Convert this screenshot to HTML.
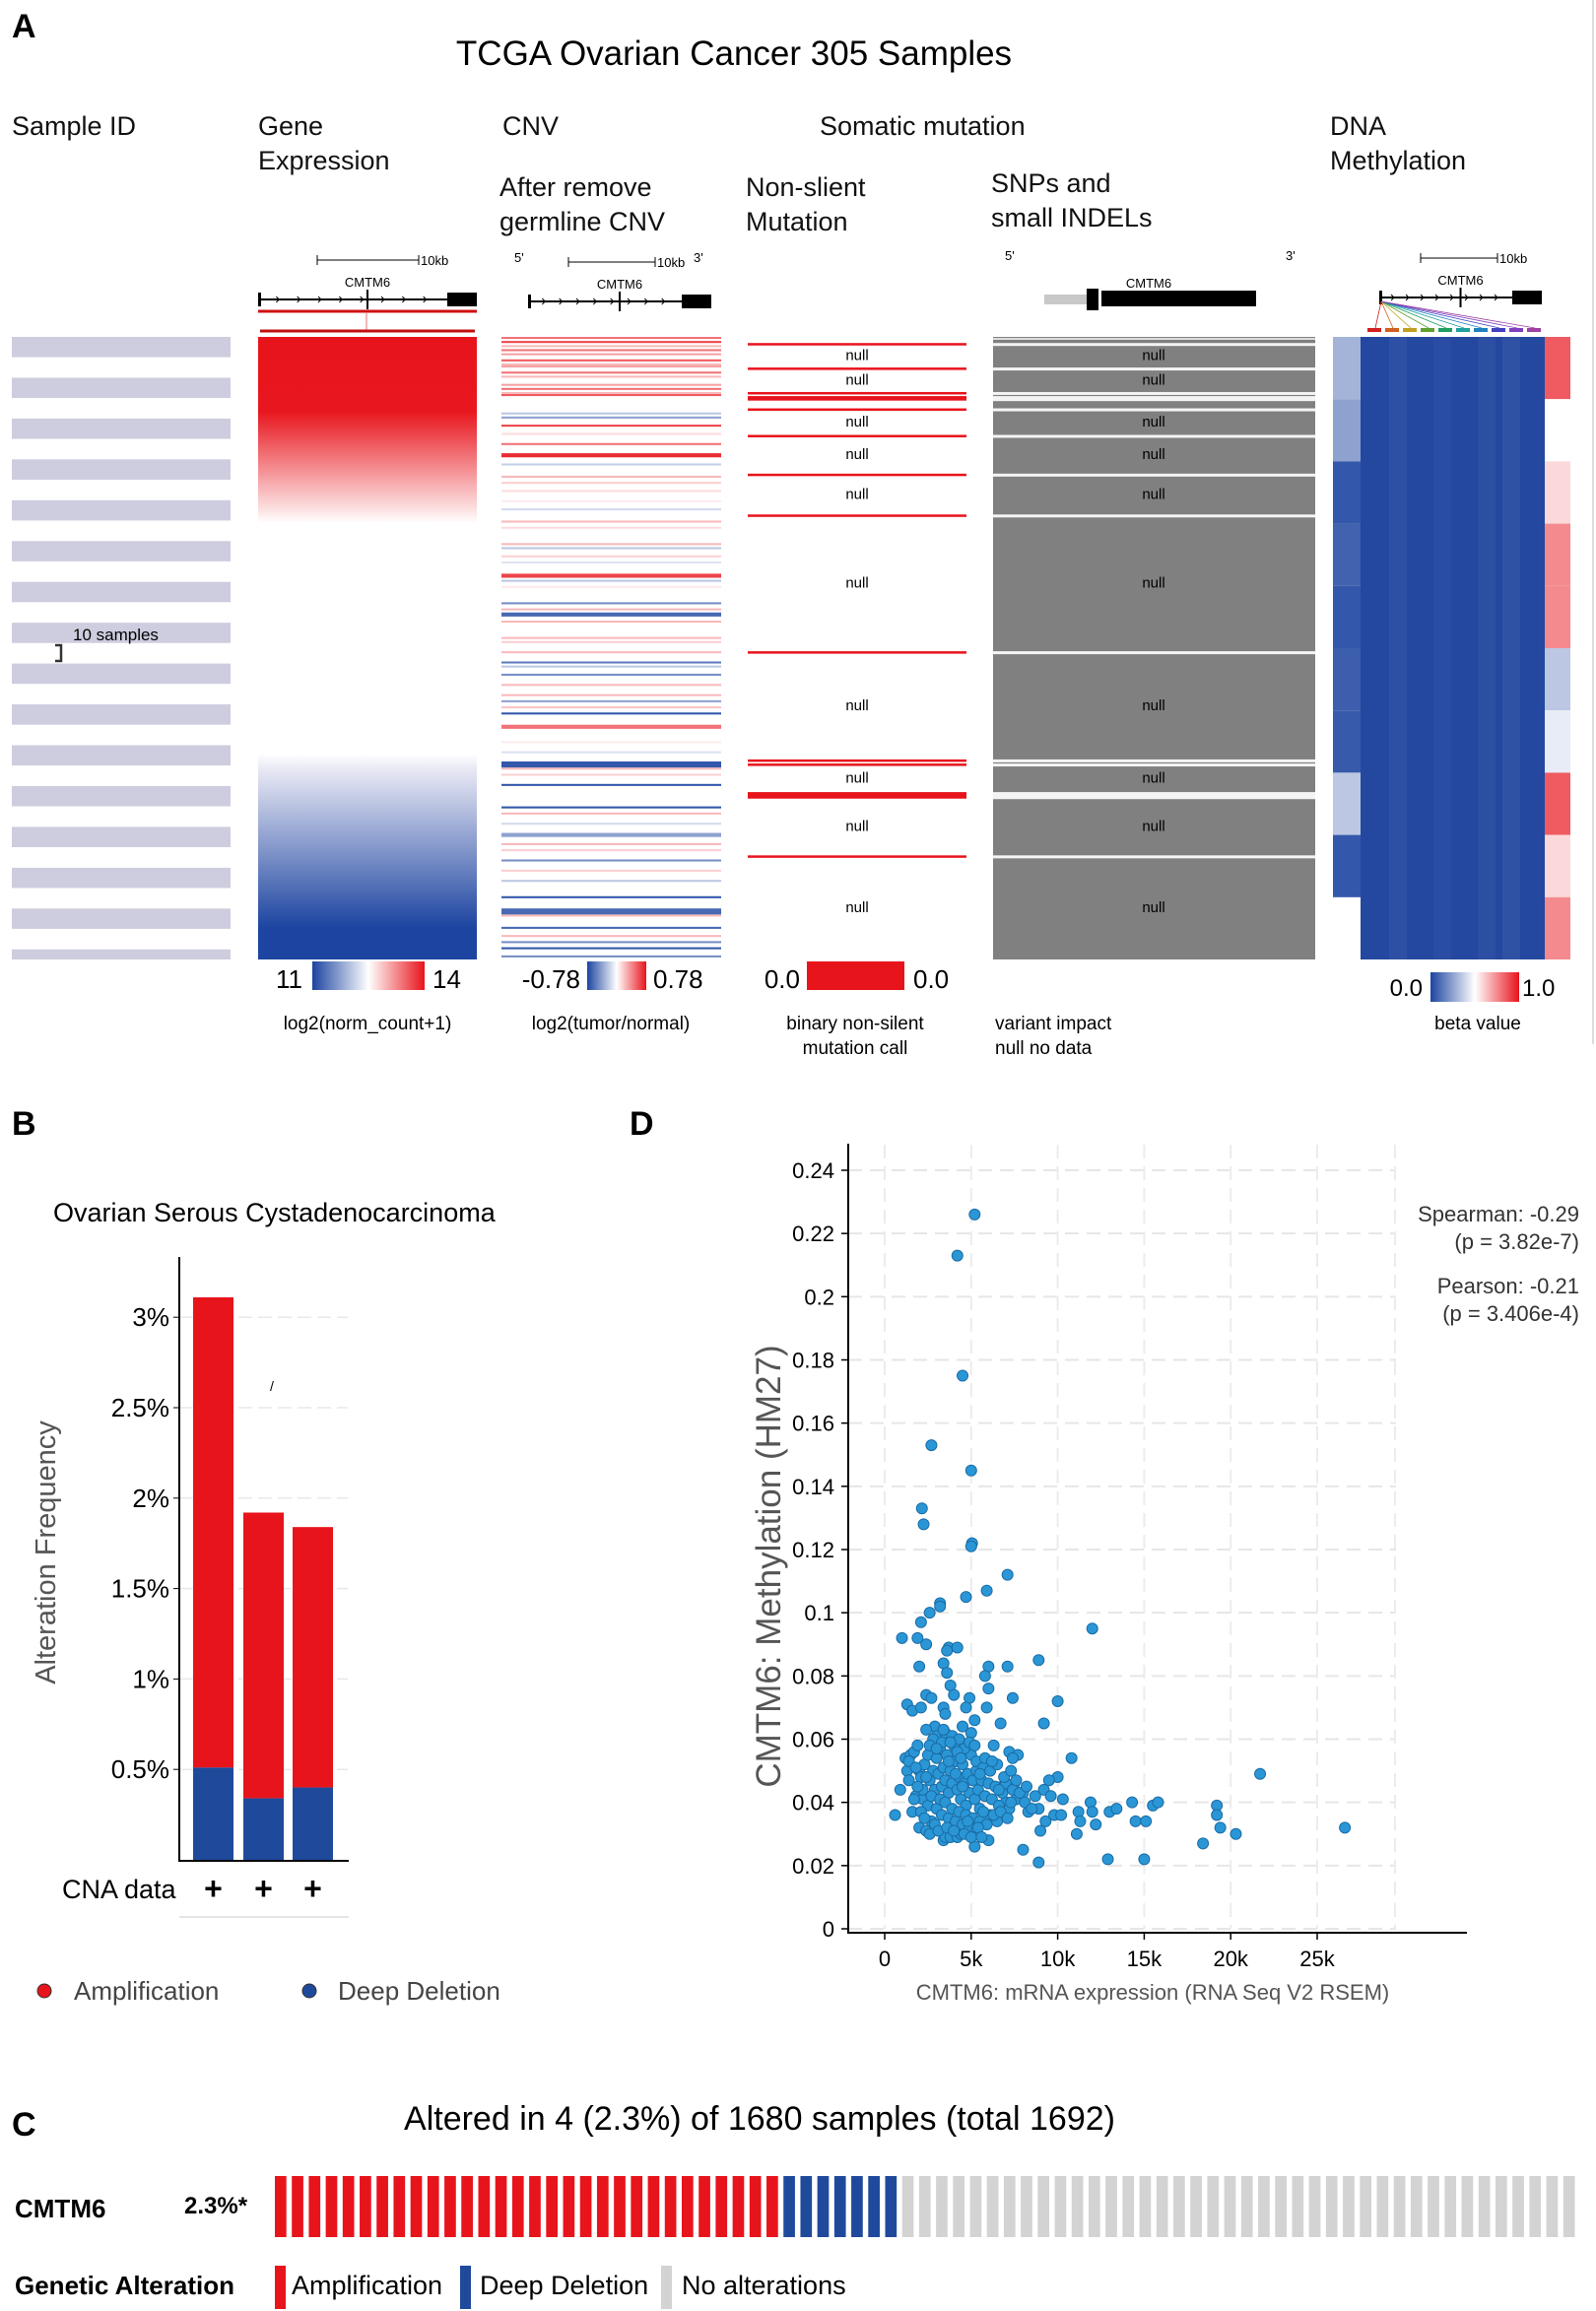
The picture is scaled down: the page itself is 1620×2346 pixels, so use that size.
<!DOCTYPE html>
<html><head><meta charset="utf-8">
<style>
html,body{margin:0;padding:0;background:#fff;}
svg{display:block;font-family:"Liberation Sans",Arial,sans-serif;}
</style></head>
<body>
<svg id="fig" width="1620" height="2346" viewBox="0 0 1620 2346" xmlns="http://www.w3.org/2000/svg">
<defs>
<linearGradient id="geGrad" x1="0" y1="0" x2="0" y2="1">
<stop offset="0" stop-color="#e8141c"/><stop offset="0.12" stop-color="#e8161e"/>
<stop offset="0.3" stop-color="#ffffff"/><stop offset="0.67" stop-color="#ffffff"/>
<stop offset="0.69" stop-color="#ececf6"/><stop offset="0.95" stop-color="#1c44a0"/><stop offset="1" stop-color="#1c44a0"/>
</linearGradient>
<linearGradient id="hgrad" x1="0" y1="0" x2="1" y2="0">
<stop offset="0" stop-color="#1c44a0"/><stop offset="0.5" stop-color="#ffffff"/><stop offset="1" stop-color="#e8141c"/>
</linearGradient>
</defs>
<g id="panelA"></g>
<g id="panelB"></g>
<g id="panelC"></g>
<g id="panelD"></g>
</svg>
<script>
// ---------- Panel A data ----------
const nSamples = 305;
const cnvIdx = [0,2,4,6,8,11,13,14,17,19,23,25,27,28,37,39,43,47,52,57,62,68,71,75,80,84,90,93,101,103,107,110,116,119,122,130,133,135,139,147,149,154,159,161,165,170,175,178,181,184,190,198,203,208,211,214,219,230,233,238,243,248,251,256,261,266,274,280,283,289,293,296,299,303];
const cnvVal = [0.6,0.8,0.3,0.6,0.4,0.7,0.3,0.4,0.6,0.3,0.4,0.6,0.3,0.7,-0.3,-0.5,0.8,0.15,0.6,0.9,-0.25,0.3,0.2,0.15,0.08,-0.2,0.3,0.15,0.3,-0.3,0.2,-0.15,0.8,-0.3,0.1,-0.6,0.3,-0.8,0.3,0.3,0.2,0.3,-0.7,-0.3,-0.6,0.3,0.3,-0.5,0.25,-0.9,0.6,0.08,-0.15,-0.9,0.3,0.2,-0.9,-0.9,0.3,-0.2,-0.5,0.3,0.2,-0.6,0.2,-0.3,-0.9,-0.8,0.3,-0.8,0.3,-0.6,-0.9,-0.6];
const cnvSpan = [1,1,1,1,1,1,1,1,1,1,1,1,1,1,1,1,1,1,1,2,1,1,1,1,1,1,1,1,1,1,1,1,2,1,1,1,1,2,1,1,1,1,1,1,1,1,1,1,1,1,2,1,1,3,1,1,1,1,1,1,2,1,1,1,1,1,1,3,1,1,1,1,1,1];
const mutIdx = [3,15,27,29,30,35,48,67,87,154,207,209,223,224,225,254];
const methLeft = [0.3,0.25,0.05,0.08,0.05,0.07,0.06,0.35,0.05,null];
const methRight = [0.85,0.5,0.58,0.75,0.75,0.35,0.45,0.85,0.58,0.75];
// ---------- Panel B data ----------
const cancerBars = ["bar1","bar2","bar3"];
const ampTotal = [3.11,1.92,1.84];
const delValue = [0.51,0.34,0.40];
const bTicks = [0.5,1,1.5,2,2.5,3];
const bTickLabels = ["0.5%","1%","1.5%","2%","2.5%","3%"];
// ---------- Panel C data ----------
const nAmp = 30, nDel = 7, nNone = 40;
// ---------- Panel D data ----------
const xTicks = [0,5000,10000,15000,20000,25000];
const xTickLabels = ["0","5k","10k","15k","20k","25k"];
const yTicks = [0,0.02,0.04,0.06,0.08,0.1,0.12,0.14,0.16,0.18,0.2,0.22,0.24];
const yTickLabels = ["0","0.02","0.04","0.06","0.08","0.1","0.12","0.14","0.16","0.18","0.2","0.22","0.24"];
const mrna = [5200,4200,4500,2700,5000,2150,2250,5050,5000,7100,4700,5900,3200,3200,2600,2100,1000,1900,2400,3700,4200,3600,12000,8900,7100,2000,3400,6000,3600,5800,6000,3800,4000,2400,2700,7400,10000,4900,1300,1600,2100,3400,4700,5200,5900,6700,9200,3500,2900,3000,4500,5000,2400,3500,6300,7200,7700,10800,7400,21700,10000,9500,9200,9600,8700,10300,11900,12000,11200,11300,11100,12200,13000,13400,14300,14500,15100,15500,15800,19200,19200,19400,20300,18400,26600,12900,15000,8900,8000,9000,9300,9800,10200,8900,8000,8300,600,900,1200,1300,1400,1600,1800,2000,2200,2400,2600,2700,3400,3500,3800,4200,4400,5200,6000,6100,6500,7000,7500,6800,
1500,1700,1900,2000,2100,2300,2500,2600,2800,2900,3000,3100,3200,3300,3400,3500,3600,3700,3800,3900,4000,4100,4200,4300,4400,4500,4600,4700,4800,4900,5000,5100,5200,5300,5400,5500,5600,5800,6000,6200,6400,6600,6800,7000,7200,7400,7600,2200,2500,2700,3000,3200,3300,3500,3700,3900,4100,4300,4500,4700,4900,5100,5300,5500,5700,5900,6300,6700,7100,7300,1900,2100,2300,2900,3100,3600,4000,4600,4800,5000,5400,5600,1700,2800,3300,3900,4300,4600,4900,5300,5700,6100,6500,6900,7300,7600,8100,8500,3400,3800,4200,2600,3000,1400,1800,4400,5200,5800,6600,7800,8200,2400,3700,4100,4500,5500,6200];
const methyl = [0.226,0.213,0.175,0.153,0.145,0.133,0.128,0.122,0.121,0.112,0.105,0.107,0.103,0.102,0.100,0.097,0.092,0.092,0.090,0.089,0.089,0.088,0.095,0.085,0.083,0.083,0.084,0.083,0.081,0.080,0.076,0.077,0.074,0.074,0.073,0.073,0.072,0.073,0.071,0.069,0.070,0.070,0.070,0.066,0.070,0.065,0.065,0.068,0.064,0.061,0.064,0.062,0.063,0.062,0.058,0.056,0.055,0.054,0.054,0.049,0.048,0.047,0.044,0.042,0.042,0.041,0.040,0.037,0.037,0.034,0.030,0.033,0.037,0.038,0.040,0.034,0.034,0.039,0.040,0.039,0.036,0.032,0.030,0.027,0.032,0.022,0.022,0.021,0.025,0.031,0.034,0.036,0.036,0.038,0.043,0.037,0.036,0.044,0.054,0.050,0.047,0.037,0.042,0.032,0.041,0.031,0.030,0.034,0.028,0.029,0.029,0.029,0.030,0.026,0.028,0.036,0.034,0.040,0.046,0.045,
0.055,0.056,0.058,0.050,0.048,0.052,0.055,0.047,0.050,0.044,0.054,0.049,0.057,0.045,0.051,0.047,0.055,0.043,0.050,0.046,0.058,0.053,0.044,0.048,0.041,0.052,0.046,0.039,0.049,0.043,0.055,0.047,0.041,0.050,0.044,0.038,0.047,0.042,0.046,0.041,0.045,0.039,0.043,0.046,0.038,0.044,0.041,0.044,0.039,0.042,0.038,0.041,0.036,0.040,0.035,0.038,0.034,0.037,0.033,0.036,0.032,0.035,0.031,0.034,0.037,0.033,0.036,0.037,0.035,0.040,0.045,0.037,0.035,0.033,0.031,0.032,0.031,0.030,0.034,0.029,0.032,0.029,0.041,0.060,0.059,0.061,0.060,0.057,0.059,0.053,0.051,0.050,0.052,0.048,0.050,0.047,0.040,0.038,0.063,0.059,0.056,0.058,0.057,0.053,0.051,0.054,0.058,0.054,0.044,0.043,0.045,0.048,0.053,0.049,0.045,0.049,0.053];

const NS = "http://www.w3.org/2000/svg";
function mk(parent, tag, attrs, text){
  const e = document.createElementNS(NS, tag);
  for (const k in attrs) e.setAttribute(k, attrs[k]);
  if (text !== undefined) e.textContent = text;
  parent.appendChild(e);
  return e;
}
function mix(a,b,t){
  const pa=[parseInt(a.slice(1,3),16),parseInt(a.slice(3,5),16),parseInt(a.slice(5,7),16)];
  const pb=[parseInt(b.slice(1,3),16),parseInt(b.slice(3,5),16),parseInt(b.slice(5,7),16)];
  return "rgb("+pa.map((v,i)=>Math.round(v+(pb[i]-v)*t)).join(",")+")";
}
function divColor(v){ return v>=0 ? mix("#ffffff","#e8141c",Math.min(1,v)) : mix("#ffffff","#1c44a0",Math.min(1,-v)); }
function betaColor(b){ return b>=0.5 ? mix("#ffffff","#e8141c",(b-0.5)*2) : mix("#ffffff","#1c44a0",(0.5-b)*2); }

// ================= PANEL A =================
const A = document.getElementById("panelA");
const top0 = 342, bot0 = 974;
const sh = (bot0-top0)/nSamples;
const sy = i => top0 + i*sh;

let t;
t = mk(A,"text",{x:12,y:38,"font-size":34,"font-weight":"bold"},"A");
 
t = mk(A,"text",{x:745,y:66,"font-size":35,"text-anchor":"middle"},"TCGA Ovarian Cancer 305 Samples");
 

const headers = [["Sample ID",12,137],["Gene",262,137],["Expression",262,172],["CNV",510,137],["After remove",507,199],["germline CNV",507,234],["Somatic mutation",832,137],["Non-slient",757,199],["Mutation",757,234],["SNPs and",1006,195],["small INDELs",1006,230],["DNA",1350,137],["Methylation",1350,172]];
headers.forEach(h=>{
  const e = mk(A,"text",{x:h[1],y:h[2],"font-size":27,fill:"#111"},h[0]);
   
});

for(let i=0;i<16;i++){
  const y = top0 + i*41.45;
  const h = Math.min(20.6, bot0-y);
  const r = mk(A,"rect",{x:12,y:y,width:222,height:h,fill:"#cdcddf"});
   
}
t = mk(A,"text",{x:74,y:650,"font-size":17},"10 samples");
 
t = mk(A,"path",{d:"M56 655 H62 V671 H56",fill:"none",stroke:"#333","stroke-width":2.5});
 

function geneTrack(x0,x1,y,label,bar){
  const g = mk(A,"g",{});
   
  mk(g,"line",{x1:x0,y1:y,x2:x1,y2:y,stroke:"#000","stroke-width":2});
  mk(g,"rect",{x:x1-30,y:y-7,width:30,height:14,fill:"#000"});
  mk(g,"rect",{x:x0,y:y-7,width:3,height:14,fill:"#000"});
  for(let k=1;k<9;k++){ mk(g,"path",{d:`M${x0+k*(x1-x0-30)/9-3} ${y-3} l3 3 l-3 3`,fill:"none",stroke:"#000","stroke-width":1}); }
  mk(g,"line",{x1:x0+(x1-x0)*0.5,y1:y-10,x2:x0+(x1-x0)*0.5,y2:y+10,stroke:"#000","stroke-width":2});
  mk(g,"line",{x1:bar[0],y1:y-40,x2:bar[1],y2:y-40,stroke:"#000","stroke-width":1});
  mk(g,"line",{x1:bar[0],y1:y-45,x2:bar[0],y2:y-35,stroke:"#000","stroke-width":1});
  mk(g,"line",{x1:bar[1],y1:y-45,x2:bar[1],y2:y-35,stroke:"#000","stroke-width":1});
  mk(g,"text",{x:bar[1]+2,y:y-35,"font-size":13},"10kb");
  mk(g,"text",{x:(x0+x1)/2,y:y-13,"font-size":13,"text-anchor":"middle"},label);
}
geneTrack(262,484,304,"CMTM6",[322,425]);
t = mk(A,"line",{x1:262,y1:316,x2:484,y2:316,stroke:"#d01010","stroke-width":3});  
t = mk(A,"line",{x1:372,y1:318,x2:372,y2:336,stroke:"#e07070","stroke-width":1});  
t = mk(A,"line",{x1:264,y1:336,x2:482,y2:336,stroke:"#c01010","stroke-width":3});  
geneTrack(536,722,306,"CMTM6",[577,665]);
t = mk(A,"text",{x:522,y:266,"font-size":13},"5'");  
t = mk(A,"text",{x:704,y:266,"font-size":13},"3'");  
geneTrack(1400,1565,302,"CMTM6",[1442,1520]);
const probeCols=["#d02020","#d06020","#c0a020","#60a030","#20a060","#20a0a0","#2080c0","#4040c0","#8040c0","#a040a0"];
probeCols.forEach((c,i)=>{
  const x = 1388 + i*18;
  let e = mk(A,"line",{x1:1402,y1:306,x2:x+8,y2:333,stroke:c,"stroke-width":0.8});
   
  e = mk(A,"rect",{x:x,y:333,width:14,height:4,fill:c});
   
});
t = mk(A,"rect",{x:1060,y:299,width:45,height:10,fill:"#c8c8c8"});  
t = mk(A,"rect",{x:1103,y:293,width:12,height:22,fill:"#000"});  
t = mk(A,"rect",{x:1118,y:295,width:157,height:16,fill:"#000"});  
t = mk(A,"text",{x:1020,y:264,"font-size":13},"5'");  
t = mk(A,"text",{x:1305,y:264,"font-size":13},"3'");  
t = mk(A,"text",{x:1166,y:292,"font-size":13,"text-anchor":"middle"},"CMTM6");  

t = mk(A,"rect",{x:262,y:top0,width:222,height:bot0-top0,fill:"url(#geGrad)"});
 

cnvIdx.forEach((idx,i)=>{
  const r = mk(A,"rect",{x:509,y:sy(idx),width:223,height:Math.max(2,cnvSpan[i]*sh),fill:divColor(cnvVal[i])});
   
});

t = mk(A,"rect",{x:1008,y:top0,width:327,height:bot0-top0,fill:"#808080"});
 
t = mk(A,"rect",{x:1008,y:top0+1,width:327,height:2,fill:"#dcdcdc"});
 
mutIdx.forEach(idx=>{
  let r = mk(A,"rect",{x:759,y:sy(idx),width:222,height:2.5,fill:"#e8141c"});
   
  r = mk(A,"rect",{x:1008,y:sy(idx),width:327,height:3,fill:"#f4f4f4"});
   
});
const bounds = [0].concat(mutIdx).concat([nSamples]);
for(let k=0;k<bounds.length-1;k++){
  const a=bounds[k], b=bounds[k+1];
  if (b-a < 10) continue;
  const cy = (sy(a)+sy(b))/2 + 5;
  let e = mk(A,"text",{x:870,y:cy,"font-size":15,"text-anchor":"middle"},"null");
   
  e = mk(A,"text",{x:1171,y:cy,"font-size":15,"text-anchor":"middle"},"null");
   
}

t = mk(A,"rect",{x:1381,y:top0,width:187,height:bot0-top0,fill:"#2448a0"});
 
[[1410,0.12],[1455,0.08],[1500,0.1],[1525,0.14]].forEach(c=>{
  const r = mk(A,"rect",{x:c[0],y:top0,width:18,height:bot0-top0,fill:"#ffffff","fill-opacity":c[1]*0.4});
   
});
const segH = (bot0-top0)/methRight.length;
methLeft.forEach((b,i)=>{
  if (b===null) return;
  const r = mk(A,"rect",{x:1353,y:top0+i*segH,width:28,height:segH,fill:betaColor(b)});
   
});
methRight.forEach((b,i)=>{
  const r = mk(A,"rect",{x:1568,y:top0+i*segH,width:26,height:segH,fill:betaColor(b)});
   
});
t = mk(A,"line",{x1:1617,y1:0,x2:1617,y2:1060,stroke:"#ddd","stroke-width":2});
 

function legText(x,y,s,anchor,size,name){
  const e = mk(A,"text",{x:x,y:y,"font-size":size,"text-anchor":anchor||"start"},s);
   
}
legText(307,1003,"11","end",26,"ge-legend-min");
t = mk(A,"rect",{x:317,y:976,width:114,height:29,fill:"url(#hgrad)"});  
legText(439,1003,"14","start",26,"ge-legend-max");
legText(589,1003,"-0.78","end",26,"cnv-legend-min");
t = mk(A,"rect",{x:596,y:976,width:60,height:29,fill:"url(#hgrad)"});  
legText(663,1003,"0.78","start",26,"cnv-legend-max");
legText(812,1003,"0.0","end",26,"mut-legend-min");
t = mk(A,"rect",{x:819,y:976,width:99,height:29,fill:"#e8141c"});  
legText(927,1003,"0.0","start",26,"mut-legend-max");
legText(1444,1011,"0.0","end",24,"meth-legend-min");
t = mk(A,"rect",{x:1452,y:987,width:90,height:30,fill:"url(#hgrad)"});  
legText(1545,1011,"1.0","start",24,"meth-legend-max");
legText(373,1045,"log2(norm_count+1)","middle",19,"ge-legend-title");
legText(620,1045,"log2(tumor/normal)","middle",19,"cnv-legend-title");
legText(868,1045,"binary non-silent","middle",19,"mut-legend-title");
legText(868,1070,"mutation call","middle",19,"mut-legend-title-2");
legText(1010,1045,"variant impact","start",19,"snp-legend-title");
legText(1010,1070,"null no data","start",19,"snp-legend-title-2");
legText(1500,1045,"beta value","middle",19,"meth-legend-title");

// ================= PANEL B =================
const B = document.getElementById("panelB");
const byScale = v => 1888 - v*183.6;
const bx0 = [196,247,297], bw = 41;
t = mk(B,"text",{x:12,y:1152,"font-size":34,"font-weight":"bold"},"B");  
t = mk(B,"text",{x:54,y:1240,"font-size":27},"Ovarian Serous Cystadenocarcinoma");  
bTicks.forEach((v,i)=>{
  let e = mk(B,"line",{x1:182,y1:byScale(v),x2:353,y2:byScale(v),stroke:"#e8e8e8","stroke-width":1.5,"stroke-dasharray":"14 6"});
   
  e = mk(B,"line",{x1:176,y1:byScale(v),x2:182,y2:byScale(v),stroke:"#000","stroke-width":1});
   
  e = mk(B,"text",{x:172,y:byScale(v)+9,"font-size":26,"text-anchor":"end"},bTickLabels[i]);
   
});
cancerBars.forEach((n,i)=>{
  let e = mk(B,"rect",{x:bx0[i],y:byScale(ampTotal[i]),width:bw,height:byScale(delValue[i])-byScale(ampTotal[i]),fill:"#e8141c"});
   
  e = mk(B,"rect",{x:bx0[i],y:byScale(delValue[i]),width:bw,height:byScale(0)-byScale(delValue[i]),fill:"#1f4a9c"});
   
  e = mk(B,"text",{x:bx0[i]+bw/2,y:1928,"font-size":32,"font-weight":"bold","text-anchor":"middle"},"+");
   
});
t = mk(B,"line",{x1:182,y1:1276,x2:182,y2:1889,stroke:"#000","stroke-width":2});  
t = mk(B,"line",{x1:181,y1:1889,x2:354,y2:1889,stroke:"#000","stroke-width":2});  
t = mk(B,"text",{x:274,y:1412,"font-size":14},"/");  
t = mk(B,"text",{x:0,y:0,"font-size":29,fill:"#555","text-anchor":"middle",transform:"translate(56,1576) rotate(-90)"},"Alteration Frequency");
 
t = mk(B,"text",{x:63,y:1927,"font-size":27},"CNA data");  
t = mk(B,"line",{x1:182,y1:1946,x2:354,y2:1946,stroke:"#ddd","stroke-width":1.5});  
t = mk(B,"circle",{cx:45,cy:2021,r:7,fill:"#e8141c",stroke:"#333","stroke-width":1});  
t = mk(B,"text",{x:75,y:2030,"font-size":26,fill:"#444"},"Amplification");  
t = mk(B,"circle",{cx:314,cy:2021,r:7,fill:"#1f4a9c",stroke:"#333","stroke-width":1});  
t = mk(B,"text",{x:343,y:2030,"font-size":26,fill:"#444"},"Deep Deletion");  

// ================= PANEL C =================
const C = document.getElementById("panelC");
t = mk(C,"text",{x:12,y:2168,"font-size":34,"font-weight":"bold"},"C");  
t = mk(C,"text",{x:771,y:2162,"font-size":34,"text-anchor":"middle"},"Altered in 4 (2.3%) of 1680 samples (total 1692)");  
t = mk(C,"text",{x:15,y:2251,"font-size":26,"font-weight":"bold"},"CMTM6");  
t = mk(C,"text",{x:187,y:2247,"font-size":24,"font-weight":"bold"},"2.3%*");  
const nTot = nAmp+nDel+nNone;
const pitch = (1604-279)/nTot;
for(let i=0;i<nTot;i++){
  const col = i<nAmp ? "#e8141c" : (i<nAmp+nDel ? "#1f4a9c" : "#d3d3d3");
  const r = mk(C,"rect",{x:279+i*pitch,y:2209,width:pitch*0.68,height:62,fill:col});
   
}
t = mk(C,"text",{x:15,y:2329,"font-size":26,"font-weight":"bold"},"Genetic Alteration");  
[[279,"#e8141c",296,"Amplification"],[467,"#1f4a9c",487,"Deep Deletion"],[671,"#d3d3d3",692,"No alterations"]].forEach(l=>{
  let e = mk(C,"rect",{x:l[0],y:2300,width:11,height:44,fill:l[1]});
   
  e = mk(C,"text",{x:l[2],y:2329,"font-size":27},l[3]);
   
});

// ================= PANEL D =================
const D = document.getElementById("panelD");
const xS = v => 898 + v*(1337-898)/25000;
const yS = v => 1958 - v*(1958-1188)/0.24;
t = mk(D,"text",{x:639,y:1152,"font-size":34,"font-weight":"bold"},"D");  
yTicks.forEach((v,i)=>{
  let e = mk(D,"line",{x1:861,y1:yS(v),x2:1417,y2:yS(v),stroke:"#e6e6e6","stroke-width":2,"stroke-dasharray":"14 8"});
   
  e = mk(D,"line",{x1:854,y1:yS(v),x2:861,y2:yS(v),stroke:"#000","stroke-width":1.5});
   
  e = mk(D,"text",{x:847,y:yS(v)+8,"font-size":22,"text-anchor":"end"},yTickLabels[i]);
   
});
xTicks.concat([29500]).forEach(v=>{
  const e = mk(D,"line",{x1:xS(v),y1:1162,x2:xS(v),y2:1958,stroke:"#ececec","stroke-width":2,"stroke-dasharray":"14 8"});
   
});
xTicks.forEach((v,i)=>{
  let e = mk(D,"line",{x1:xS(v),y1:1962,x2:xS(v),y2:1969,stroke:"#000","stroke-width":1.5});
   
  e = mk(D,"text",{x:xS(v),y:1996,"font-size":22,"text-anchor":"middle"},xTickLabels[i]);
   
});
mrna.forEach((v,i)=>{
  const c = mk(D,"ellipse",{cx:xS(v),cy:yS(methyl[i]),rx:5.5,ry:5.5,fill:"#2a96d6",stroke:"#1a6ca5","stroke-width":1});
   
});
t = mk(D,"line",{x1:861,y1:1161,x2:861,y2:1963,stroke:"#000","stroke-width":2});  
t = mk(D,"line",{x1:860,y1:1962,x2:1489,y2:1962,stroke:"#000","stroke-width":2});  
t = mk(D,"text",{x:1170,y:2030,"font-size":22,fill:"#555","text-anchor":"middle"},"CMTM6: mRNA expression (RNA Seq V2 RSEM)");  
t = mk(D,"text",{x:0,y:0,"font-size":35,fill:"#555","text-anchor":"middle",transform:"translate(792,1590) rotate(-90)"},"CMTM6: Methylation (HM27)");  
[["Spearman: -0.29",1240],["(p = 3.82e-7)",1268],["Pearson: -0.21",1313],["(p = 3.406e-4)",1341]].forEach(s=>{
  const e = mk(D,"text",{x:1603,y:s[1],"font-size":22,fill:"#333","text-anchor":"end"},s[0]);
   
});
</script>
</body></html>
